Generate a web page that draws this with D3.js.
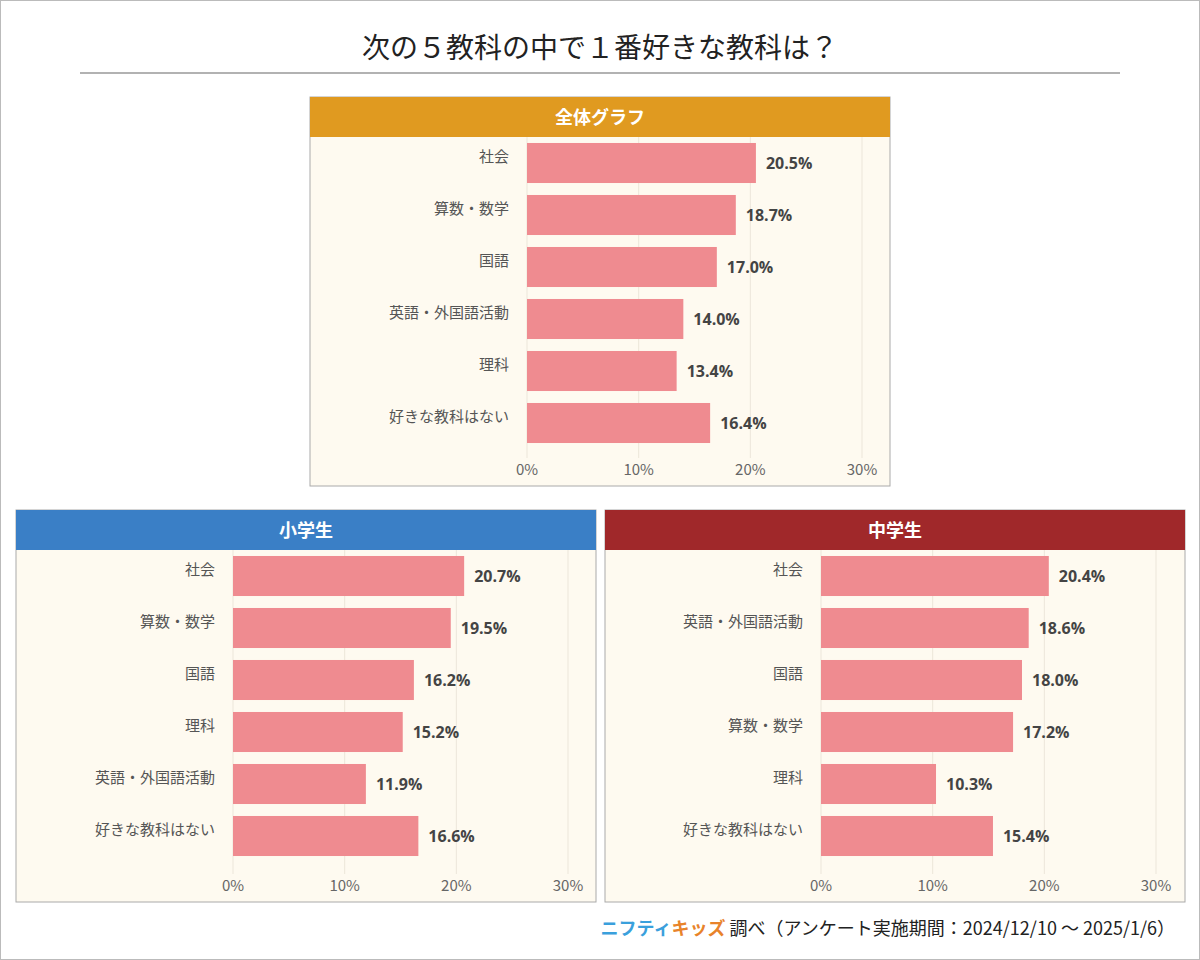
<!DOCTYPE html>
<html><head><meta charset="utf-8">
<script src="https://cdn.jsdelivr.net/npm/d3@7"></script>
<style>body{margin:0;background:#fff}svg{display:block;font-family:"Noto Sans CJK JP","Noto Sans",sans-serif}</style>
</head><body><svg id="c" width="1200" height="960"></svg>
<script>
const titleText = "次の５教科の中で１番好きな教科は？";
const ticks = [0, 10, 20, 30];
const allCats = ["社会","算数・数学","国語","英語・外国語活動","理科","好きな教科はない"];
const allVals = [20.5, 18.7, 17.0, 14.0, 13.4, 16.4];
const elemCats = ["社会","算数・数学","国語","理科","英語・外国語活動","好きな教科はない"];
const elemVals = [20.7, 19.5, 16.2, 15.2, 11.9, 16.6];
const juniorCats = ["社会","英語・外国語活動","国語","算数・数学","理科","好きな教科はない"];
const juniorVals = [20.4, 18.6, 18.0, 17.2, 10.3, 15.4];

const svg = d3.select("#c");
svg.append("rect").attr("x",0.5).attr("y",0.5).attr("width",1199).attr("height",959).attr("fill","#fff").attr("stroke","#bbb");
svg.append("text").attr("x",600).attr("y",58).attr("text-anchor","middle").attr("font-size",28).attr("fill","#222").text(titleText);
svg.append("line").attr("x1",80).attr("x2",1120).attr("y1",73).attr("y2",73).attr("stroke","#999").attr("stroke-width",1.5);

function panel(px, py, w, h, x0, title, color, cats, vals){
  const g = svg.append("g");
  g.append("rect").attr("x",px).attr("y",py).attr("width",w).attr("height",h).attr("fill","#fefaf0").attr("stroke","#aaa");
  g.append("rect").attr("x",px).attr("y",py).attr("width",w).attr("height",40).attr("fill",color);
  g.append("text").attr("x",px+w/2).attr("y",py+27).attr("text-anchor","middle").attr("fill","#fff").attr("font-size",18).attr("font-weight","bold").text(title);
  const x = d3.scaleLinear().domain([0,30]).range([x0, x0+335]);
  const y = d3.scaleBand().domain(cats).range([py+40, py+40+312]).paddingInner(0.23).paddingOuter(0.115);
  g.selectAll(".gl").data(ticks).join("line").attr("x1",d=>x(d)).attr("x2",d=>x(d)).attr("y1",py+40).attr("y2",py+h-28).attr("stroke","#ece6da");
  g.selectAll(".bar").data(vals).join("rect").attr("x",x(0)).attr("y",(d,i)=>y(cats[i])).attr("width",d=>x(d)-x(0)).attr("height",y.bandwidth()).attr("fill","#ef8b90");
  g.selectAll(".vl").data(vals).join("text").attr("x",d=>x(d)+10).attr("y",(d,i)=>y(cats[i])+y.bandwidth()/2+6).attr("font-size",16).attr("font-weight","bold").attr("fill","#444").attr("font-family","Open Sans, sans-serif").text(d=>d.toFixed(1)+"%");
  g.selectAll(".cl").data(cats).join("text").attr("x",x0-18).attr("y",d=>y(d)+y.bandwidth()/2-1).attr("text-anchor","end").attr("font-size",15).attr("fill","#555").text(d=>d);
  g.selectAll(".tk").data(ticks).join("text").attr("x",d=>x(d)).attr("y",py+h-11).attr("text-anchor","middle").attr("font-size",15).attr("fill","#666").text(d=>d+"%");
}
panel(310,97,580,389,527,"全体グラフ","#e09a20",allCats,allVals);
panel(16,510,580,392,233,"小学生","#3a7fc6",elemCats,elemVals);
panel(605,510,580,392,821,"中学生","#a0282a",juniorCats,juniorVals);

const f = svg.append("text").attr("x",1175).attr("y",935).attr("text-anchor","end").attr("font-size",18).attr("fill","#222");
f.append("tspan").attr("fill","#3aa0dc").attr("font-weight","bold").text("ニフティ");
f.append("tspan").attr("fill","#e8832a").attr("font-weight","bold").text("キッズ");
f.append("tspan").text(" 調べ（アンケート実施期間：2024/12/10 ～ 2025/1/6）");
</script></body></html>
